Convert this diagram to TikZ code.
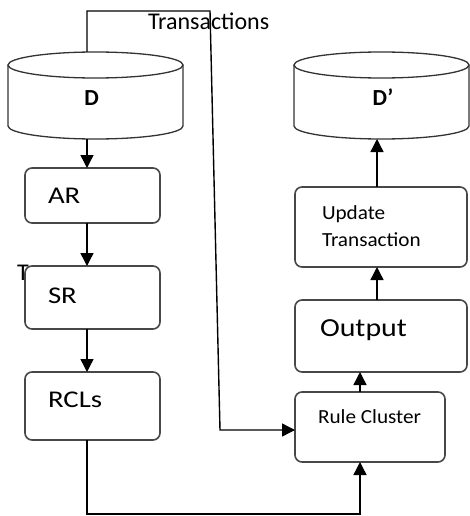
\documentclass[tikz,border=0pt]{standalone}
\usepackage{fontspec}
\setmainfont{Carlito}
\usetikzlibrary{arrows.meta,calc}
% horizontally widened text
\newcommand\hwide[2]{\scalebox{#1}[1]{#2}}
\begin{document}
\begin{tikzpicture}[x=1pt,y=-1pt,
  box/.style={draw=black!72,line width=1.6pt,rounded corners=7pt,fill=white,
              inner sep=0pt,outer sep=0pt,anchor=north west},
  dbnode/.style={inner sep=0pt,outer sep=0pt,minimum width=175pt,minimum height=87pt},
  db/.style={draw=black!80,line width=1.3pt},
  link/.style={draw=black,line width=1.4pt},
  arr/.style={link,-{Triangle[length=13pt,width=13pt]}},
  lbl/.style={inner sep=0pt,outer sep=0pt,anchor=base west,text=black},
  big/.style={font=\fontsize{24}{28}\selectfont},
  mid/.style={font=\fontsize{20}{24}\selectfont},
]
\useasboundingbox (0,0) rectangle (469,516);
\fill[white] (0,0) rectangle (469,516);

% connector columns and bends
\coordinate (colL) at (87,0);
\coordinate (colR) at (377,0);
\coordinate (tl) at (87,11);
\coordinate (tr) at (210,11);
\coordinate (br) at (220,430);
\coordinate (bot) at (360,514);

% databases
\node[dbnode] (D) at (95.5,95.5) {};
\node[dbnode] (D2) at (381.5,95.5) {};
\foreach \n in {D,D2}{
  \draw[db] ($(\n.north west)+(0,13)$) -- ($(\n.south west)+(0,-13)$)
    arc[start angle=180,end angle=0,x radius=87.5,y radius=13]
    -- ($(\n.north east)+(0,13)$);
  \draw[db] ($(\n.north)+(0,13)$) ellipse[x radius=87.5,y radius=13];
}
\node[lbl,anchor=base,font=\fontsize{23}{27}\selectfont\bfseries] (Dt) at (91.5,106) {D};
\node[lbl,anchor=base,font=\fontsize{23}{27}\selectfont\bfseries] (D2t) at (383,106) {D’};

% stray letter partly hidden by the SR box
\node[lbl,big] (Tx) at (17,280) {T};

% process boxes
\node[box,minimum width=135pt,minimum height=55pt] (AR) at (25,168) {};
\node[box,minimum width=135pt,minimum height=63pt] (SR) at (25,266) {};
\node[box,minimum width=135pt,minimum height=68pt] (RCLs) at (25,372) {};
\node[box,minimum width=150pt,minimum height=70pt] (RC) at (295,392) {};
\node[box,minimum width=172pt,minimum height=72pt] (Out) at (295,300) {};
\node[box,minimum width=172pt,minimum height=80pt] (Upd) at (295,187) {};

% box texts
\node[lbl,big] (ARt) at (48,203) {\hwide{1.2}{AR}};
\node[lbl,big] (SRt) at (48,303) {\hwide{1.2}{SR}};
\node[lbl,big] (RCLst) at (48,407) {\hwide{1.2}{RCLs}};
\node[lbl,mid] (RCt) at (318,423) {\hwide{1.06}{Rule Cluster}};
\node[lbl,font=\fontsize{26}{30}\selectfont] (Outt) at (320,336) {\hwide{1.15}{Output}};
\node[lbl,mid] (Updt1) at (322,219) {\hwide{1.06}{Update}};
\node[lbl,mid] (Updt2) at (322,246) {\hwide{1.06}{Transaction}};

% transactions label
\node[lbl,font=\fontsize{24}{28}\selectfont] (Tr) at (148,30) {Transactions};

% connectors
\draw[arr] (D.north -| tl) -- (tl) -- (tr) -- (br) -- (br -| RC.west);
\draw[arr] (D.south -| colL) -- (AR.north -| colL);
\draw[arr] (AR.south -| colL) -- (SR.north -| colL);
\draw[arr] (SR.south -| colL) -- (RCLs.north -| colL);
\draw[arr] (RCLs.south -| colL) -- (colL |- bot) -- (bot) -- (RC.south -| bot);
\draw[arr] (RC.north -| bot) -- (Out.south -| bot);
\draw[arr] (Out.north -| colR) -- (Upd.south -| colR);
\draw[arr] (Upd.north -| colR) -- (D2.south -| colR);
\end{tikzpicture}
\end{document}
